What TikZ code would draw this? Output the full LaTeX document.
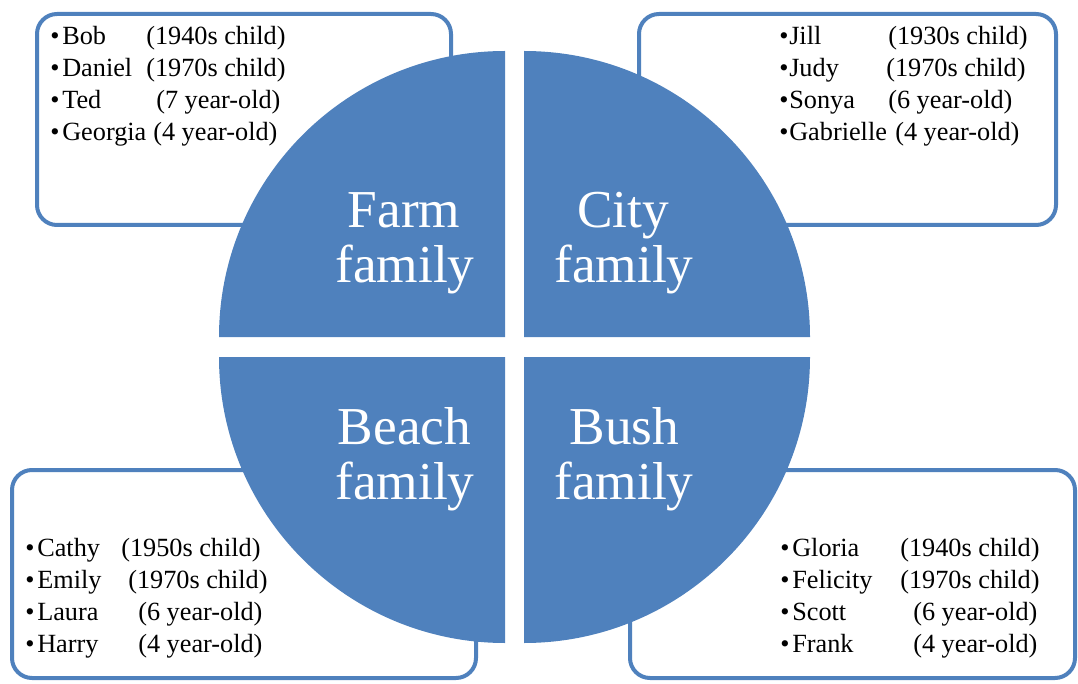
\documentclass[tikz,border=0pt]{standalone}
\usepackage{fontspec}
\setmainfont{Liberation Serif}
\definecolor{qblue}{HTML}{4F81BD}
\begin{document}
\begin{tikzpicture}[x=0.75pt,y=-0.75pt,
  box/.style={draw=qblue,line width=3pt,rounded corners=15pt,fill=white,inner sep=0pt},
  quad/.style={fill=qblue},
  item/.style={anchor=base west,inner sep=0pt,font=\fontsize{19.7}{24}\selectfont},
  title/.style={anchor=base,inner sep=0pt,text=white,font=\fontsize{40}{42}\selectfont}]
\useasboundingbox (0,0) rectangle (1078,684);
% boxes
\node[box,minimum width=310.5pt,minimum height=158.25pt] (tl) at (244,119.5) {};
\node[box,minimum width=312.75pt,minimum height=158.25pt] (tr) at (847.5,119.5) {};
\node[box,minimum width=348pt,minimum height=156pt] (bl) at (244,574) {};
\node[box,minimum width=333.75pt,minimum height=156pt] (br) at (852.5,574) {};
% quadrants
\fill[quad] (505,337) -- (219,337) arc[start angle=180,end angle=270,radius=286] -- cycle;
\fill[quad] (524,337) -- (524,51) arc[start angle=270,end angle=360,radius=286] -- cycle;
\fill[quad] (505,357) -- (219,357) arc[start angle=180,end angle=90,radius=286] -- cycle;
\fill[quad] (524,357) -- (810,357) arc[start angle=0,end angle=90,radius=286] -- cycle;
% titles
\node[title] (farmA) at (404,228) {Farm};
\node[title] (farmB) at (405,283) {family};
\node[title] (cityA) at (623,228) {City};
\node[title] (cityB) at (624,283) {family};
\node[title] (beachA) at (404.5,444) {Beach};
\node[title] (beachB) at (405,499) {family};
\node[title] (bushA) at (624.5,444) {Bush};
\node[title] (bushB) at (624,499) {family};
% top-left list
\node[item] (tlb1) at (50,45) {•};
\node[item] (tln1) at (62,45) {Bob};
\node[item] (tlp1) at (146,45) {(1940s child)};
\node[item] (tlb2) at (50,77) {•};
\node[item] (tln2) at (62,77) {Daniel};
\node[item] (tlp2) at (146,77) {(1970s child)};
\node[item] (tlb3) at (50,109) {•};
\node[item] (tln3) at (62,109) {Ted};
\node[item] (tlp3) at (156,109) {(7 year-old)};
\node[item] (tlb4) at (50,141) {•};
\node[item] (tln4) at (62,141) {Georgia};
\node[item] (tlp4) at (153,141) {(4 year-old)};
% top-right list
\node[item] (trb1) at (779,45) {•};
\node[item] (trn1) at (789,45) {Jill};
\node[item] (trp1) at (888,45) {(1930s child)};
\node[item] (trb2) at (779,77) {•};
\node[item] (trn2) at (789,77) {Judy};
\node[item] (trp2) at (886,77) {(1970s child)};
\node[item] (trb3) at (779,109) {•};
\node[item] (trn3) at (789,109) {Sonya};
\node[item] (trp3) at (888,109) {(6 year-old)};
\node[item] (trb4) at (779,141) {•};
\node[item] (trn4) at (789,141) {Gabrielle};
\node[item] (trp4) at (895,141) {(4 year-old)};
% bottom-left list
\node[item] (blb1) at (25,556) {•};
\node[item] (bln1) at (37,556) {Cathy};
\node[item] (blp1) at (121,556) {(1950s child)};
\node[item] (blb2) at (25,588) {•};
\node[item] (bln2) at (37,588) {Emily};
\node[item] (blp2) at (128,588) {(1970s child)};
\node[item] (blb3) at (25,620) {•};
\node[item] (bln3) at (37,620) {Laura};
\node[item] (blp3) at (138,620) {(6 year-old)};
\node[item] (blb4) at (25,652) {•};
\node[item] (bln4) at (37,652) {Harry};
\node[item] (blp4) at (138,652) {(4 year-old)};
% bottom-right list
\node[item] (brb1) at (780,556) {•};
\node[item] (brn1) at (792,556) {Gloria};
\node[item] (brp1) at (900,556) {(1940s child)};
\node[item] (brb2) at (780,588) {•};
\node[item] (brn2) at (792,588) {Felicity};
\node[item] (brp2) at (900,588) {(1970s child)};
\node[item] (brb3) at (780,620) {•};
\node[item] (brn3) at (792,620) {Scott};
\node[item] (brp3) at (913,620) {(6 year-old)};
\node[item] (brb4) at (780,652) {•};
\node[item] (brn4) at (792,652) {Frank};
\node[item] (brp4) at (913,652) {(4 year-old)};
\end{tikzpicture}
\end{document}
